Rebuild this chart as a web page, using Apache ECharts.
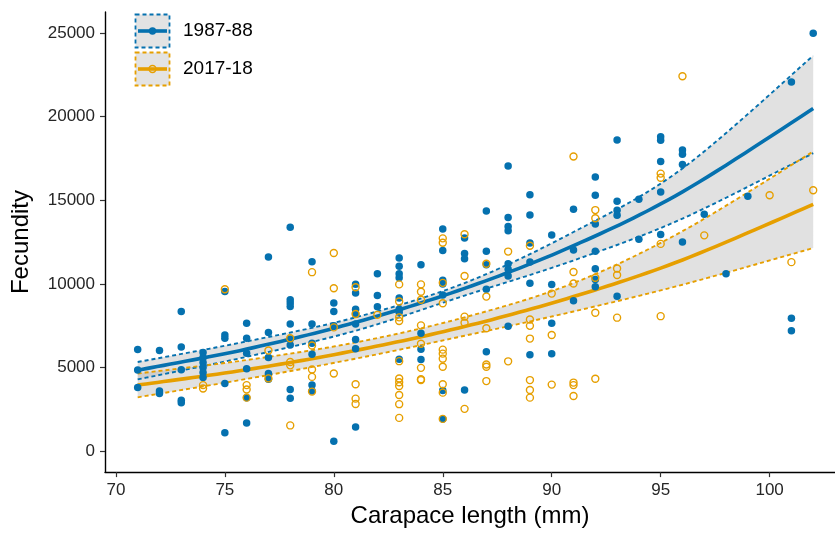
<!DOCTYPE html>
<html><head><meta charset="utf-8">
<script src="https://cdn.jsdelivr.net/npm/echarts@6/dist/echarts.min.js"></script>
<style>html,body{margin:0;padding:0;background:#fff}#c{width:835px;height:533px}</style>
</head><body><div id="c"></div>
<script>
const xTicks = [70,75,80,85,90,95,100];
const yTicks = [0,5000,10000,15000,20000,25000];
const seriesNames = ['1987-88','2017-18'];

const fitX = [71,76,81,86,91,96,102];
const fit1987   = [4840,6100,7700,9730,12280,15500,20480];
const upper1987 = [5330,6560,8000,10050,13100,16900,23640];
const lower1987 = [4290,5640,7200,9300,11400,13900,17810];
const fit2017   = [3950,4870,6020,7450,9240,11430,14750];
const upper2017 = [4640,5450,6500,8000,10050,13150,17910];
const lower2017 = [3220,4320,5530,6900,8350,9950,12140];

const points1987 = [
[71,6080],[71,4850],[71,3800],
[72,6020],[72,3600],[72,3450],
[73,8350],[73,6220],[73,4870],[73,3050],[73,2900],
[74,5900],[74,5600],[74,5300],[74,5000],[74,4700],[74,4400],
[75,9550],[75,6950],[75,6750],[75,4050],[75,1100],
[76,7650],[76,6750],[76,5850],[76,4920],[76,3200],[76,1680],
[77,11600],[77,7100],[77,5600],[77,4650],[77,4300],
[78,13380],[78,9050],[78,8850],[78,8650],[78,7600],[78,6700],[78,6350],[78,3680],[78,3160],
[79,11320],[79,7600],[79,6450],[79,5790],[79,3950],[79,3600],
[80,8850],[80,8350],[80,7500],[80,600],
[81,9980],[81,9450],[81,8490],[81,8200],[81,7600],[81,6670],[81,6120],[81,1450],
[82,10600],[82,9310],[82,8630],
[83,11550],[83,11060],[83,10600],[83,10370],[83,9150],[83,8490],[83,8300],[83,5500],
[84,11150],[84,7050],[84,6100],[84,5480],
[85,13280],[85,11990],[85,10220],[85,10000],[85,9330],[85,3630],[85,1920],
[86,12740],[86,11820],[86,11500],[86,3650],
[87,14350],[87,11950],[87,11140],[87,9680],[87,5950],
[88,17040],[88,13960],[88,13430],[88,13170],[88,11200],[88,10870],[88,10470],[88,7460],
[89,15320],[89,14120],[89,12440],[89,11310],[89,10040],[89,5770],
[90,12920],[90,9970],[90,7640],[90,5830],
[91,14460],[91,12020],[91,8990],
[92,16390],[92,15290],[92,13580],[92,11950],[92,10900],[92,10260],[92,9830],
[93,18600],[93,14940],[93,14400],[93,14100],[93,9260],
[94,15060],[94,12670],
[95,18800],[95,18580],[95,17320],[95,15490],[95,12950],
[96,18000],[96,17750],[96,17140],[96,12500],
[97,14160],[98,10600],[99,15240],
[101,22060],[101,7940],[101,7200],
[102,24980]
];

const points2017 = [
[74,3950],[74,3750],
[75,9680],
[76,3950],[76,3690],[76,3200],
[77,6020],[77,4350],
[78,6750],[78,5330],[78,5130],[78,1540],
[79,10700],[79,6320],[79,4880],[79,4440],[79,3560],
[80,11850],[80,9740],[80,7400],[80,4640],
[81,9800],[81,8200],[81,4000],[81,3140],[81,2820],
[82,8150],
[83,9970],[83,8950],[83,8000],[83,7780],[83,5380],[83,4340],[83,4120],[83,3900],[83,3360],[83,2810],[83,1990],
[84,9970],[84,9530],[84,9050],[84,7520],[84,6420],[84,4980],[84,4300],[84,4250],
[85,12720],[85,12460],[85,10060],[85,8840],[85,6070],[85,5830],[85,5530],[85,5050],[85,4000],[85,3500],[85,1930],
[86,12970],[86,10470],[86,8040],[86,7680],[86,2530],
[87,11200],[87,9240],[87,7350],[87,5180],[87,5050],[87,4190],
[88,11930],[88,5370],
[89,12280],[89,7870],[89,7490],[89,6730],[89,4250],[89,3660],[89,3200],
[90,9420],[90,6940],[90,3980],
[91,17610],[91,10710],[91,10020],[91,4100],[91,3950],[91,3300],
[92,14410],[92,13920],[92,10370],[92,8270],[92,4330],
[93,10920],[93,10530],[93,7980],
[95,16590],[95,16340],[95,12390],[95,8070],
[96,22410],[97,12900],[100,15300],[101,11300],[102,15600]
];

const BLUE = '#0571AF';
const ORANGE = '#E69F00';
const BAND = 'rgba(175,175,175,0.38)';
const FONT = '"Liberation Sans", Arial, sans-serif';

// Catmull-Rom smoothing of pixel points (rendering only)
function smoothPts(p) {
  const out = [];
  const n = p.length;
  for (let i = 0; i < n - 1; i++) {
    const p0 = p[Math.max(i - 1, 0)], p1 = p[i], p2 = p[i + 1], p3 = p[Math.min(i + 2, n - 1)];
    const steps = 16;
    for (let s = 0; s < steps; s++) {
      const t = s / steps, t2 = t * t, t3 = t2 * t;
      const f = (a, b, c, d) => 0.5 * ((2 * b) + (-a + c) * t + (2 * a - 5 * b + 4 * c - d) * t2 + (-a + 3 * b - 3 * c + d) * t3);
      out.push([f(p0[0], p1[0], p2[0], p3[0]), f(p0[1], p1[1], p2[1], p3[1])]);
    }
  }
  out.push(p[n - 1]);
  return out;
}

function renderCurves(params, api) {
  const curve = (arr) => smoothPts(fitX.map((x, i) => api.coord([x, arr[i]])));
  const band = (up, lo) => ({type:'polygon', silent:true,
    shape:{points: curve(up).concat(curve(lo).reverse())}, style:{fill:BAND, stroke:'none'}});
  const line = (arr, color, w, dash) => ({type:'polyline', silent:true,
    shape:{points: curve(arr)},
    style:{fill:'none', stroke:color, lineWidth:w, lineDash: dash ? [4, 3] : null}});
  return {type:'group', children:[
    band(upper1987, lower1987),
    band(upper2017, lower2017),
    line(upper1987, BLUE, 1.9, true),
    line(lower1987, BLUE, 1.9, true),
    line(upper2017, ORANGE, 1.9, true),
    line(lower2017, ORANGE, 1.9, true),
    line(fit1987, BLUE, 3.6, false),
    line(fit2017, ORANGE, 3.6, false)
  ]};
}

const chart = echarts.init(document.getElementById('c'), null, {renderer:'canvas'});
chart.setOption({
  animation:false,
  backgroundColor:'#fff',
  grid:{left:105, right:0, top:12, bottom:57, containLabel:false},
  xAxis:{
    type:'value', min:69.5, max:103,
    axisLine:{onZero:false, lineStyle:{color:'#000', width:1.4}},
    axisTick:{customValues:xTicks, length:5, lineStyle:{color:'#333', width:1.2}},
    axisLabel:{customValues:xTicks, fontSize:17, color:'#262626', margin:10, fontFamily:FONT},
    splitLine:{show:false},
    name:'Carapace length (mm)', nameLocation:'middle', nameGap:30,
    nameTextStyle:{fontSize:24, color:'#000', fontFamily:FONT}
  },
  yAxis:{
    type:'value', min:-1250, max:26250,
    axisLine:{onZero:false, lineStyle:{color:'#000', width:1.4}},
    axisTick:{customValues:yTicks, length:5, lineStyle:{color:'#333', width:1.2}},
    axisLabel:{customValues:yTicks, fontSize:17, color:'#262626', margin:10, fontFamily:FONT,
      formatter:(v) => String(v)},
    splitLine:{show:false},
    name:'Fecundity', nameLocation:'middle', nameGap:72, nameRotate:90,
    nameTextStyle:{fontSize:24, color:'#000', fontFamily:FONT}
  },
  series:[
    {type:'custom', renderItem:renderCurves, data:[[fitX[0], fit1987[0]]], silent:true, z:1},
    {type:'scatter', name:seriesNames[0], data:points1987, symbol:'circle', symbolSize:7.5,
     itemStyle:{color:BLUE, opacity:1}, z:5},
    {type:'scatter', name:seriesNames[1], data:points2017, symbol:'circle', symbolSize:7,
     itemStyle:{color:'rgba(255,255,255,0)', borderColor:ORANGE, borderWidth:1.4, opacity:1}, z:6}
  ],
  graphic:[
    {type:'rect', shape:{x:135.5, y:14.5, width:34, height:33},
     style:{fill:'#e3e3e3', stroke:BLUE, lineWidth:1.8, lineDash:[4,3]}, z:10},
    {type:'line', shape:{x1:138, y1:31, x2:167, y2:31}, style:{stroke:BLUE, lineWidth:3.6}, z:11},
    {type:'circle', shape:{cx:152.5, cy:31, r:3.7}, style:{fill:BLUE}, z:12},
    {type:'text', x:183, y:31, style:{text:seriesNames[0], fill:'#000', font:'19px '+FONT, verticalAlign:'middle'}, z:12},
    {type:'rect', shape:{x:135.5, y:52.5, width:34, height:33},
     style:{fill:'#e3e3e3', stroke:ORANGE, lineWidth:1.8, lineDash:[4,3]}, z:10},
    {type:'line', shape:{x1:138, y1:69, x2:167, y2:69}, style:{stroke:ORANGE, lineWidth:3.6}, z:11},
    {type:'circle', shape:{cx:152.5, cy:69, r:3.5}, style:{fill:'none', stroke:ORANGE, lineWidth:1.4}, z:12},
    {type:'text', x:183, y:69, style:{text:seriesNames[1], fill:'#000', font:'19px '+FONT, verticalAlign:'middle'}, z:12}
  ]
});
</script></body></html>
